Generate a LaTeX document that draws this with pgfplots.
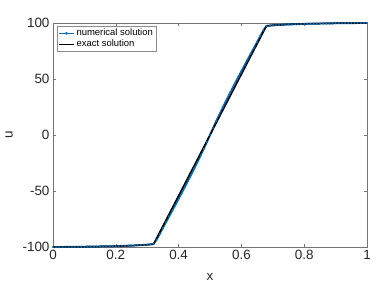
\documentclass[border=0pt]{standalone}
\usepackage{fontspec}
\setmainfont{Liberation Sans}
\usepackage{pgfplots}
\pgfplotsset{compat=1.18}
\definecolor{mblue}{rgb}{0,0.447,0.741}
\definecolor{axgray}{rgb}{0.15,0.15,0.15}
\begin{document}
\begin{tikzpicture}
\begin{axis}[
  scale only axis, width=314bp, height=224bp,
  xmin=0, xmax=1, ymin=-100, ymax=100,
  xtick={0,0.2,0.4,0.6,0.8,1}, ytick={-100,-50,0,50,100},
  tick align=inside, tick pos=both,
  major tick length=3bp,
  axis line style={black!55, line width=0.5pt},
  tick style={black!55, line width=0.5pt},
  /pgf/number format/assume math mode=true,
  ticklabel style={font=\fontsize{13.5}{15}\selectfont, text=axgray},
  label style={font=\fontsize{13.5}{15}\selectfont, text=axgray},
  xlabel={x}, ylabel={u},
  xlabel style={yshift=-7bp},
  ylabel style={yshift=3bp},
  legend style={at={(0.013,0.987)}, anchor=north west, draw=black!45, line width=0.4pt,
    font=\fontsize{9.5}{10.5}\selectfont, inner sep=1pt, row sep=-1.5pt, text=black},
  legend cell align=left,
  legend image code/.code={\draw[line width=1pt, mark repeat=2, mark phase=2, mark size=1.3pt] plot coordinates {(0cm,0cm)(0.27cm,0cm)(0.54cm,0cm)};},
]
\addplot[color=mblue, line width=1.9pt, mark=*, mark size=0.9pt, mark options={line width=0.2pt}] coordinates {
(0.00,-100)(0.01,-100)(0.02,-100)(0.03,-100)(0.04,-99.9)(0.05,-99.9)(0.06,-99.9)(0.07,-99.9)
(0.08,-99.8)(0.09,-99.8)(0.10,-99.8)(0.11,-99.7)(0.12,-99.7)(0.13,-99.6)(0.14,-99.6)(0.15,-99.5)
(0.16,-99.5)(0.17,-99.4)(0.18,-99.3)(0.19,-99.3)(0.20,-99.2)(0.21,-99.1)(0.22,-99.0)(0.23,-98.9)
(0.24,-98.8)(0.25,-98.7)(0.26,-98.6)(0.27,-98.4)(0.28,-98.3)(0.29,-98.1)(0.30,-97.9)(0.31,-97.6)
(0.32,-97.3)(0.33,-93.5)(0.34,-88.3)(0.35,-83.0)(0.36,-77.8)(0.37,-72.6)(0.38,-67.4)(0.39,-62.2)
(0.40,-57.0)(0.41,-51.7)(0.42,-46.3)(0.43,-40.9)(0.44,-35.4)(0.45,-29.8)(0.46,-24.1)(0.47,-18.3)
(0.48,-12.4)(0.49,-6.3)(0.50,0)(0.51,6.3)(0.52,12.4)(0.53,18.3)(0.54,24.1)(0.55,29.8)(0.56,35.4)
(0.57,40.9)(0.58,46.3)(0.59,51.7)(0.60,57.0)(0.61,62.2)(0.62,67.4)(0.63,72.6)(0.64,77.8)(0.65,83.0)
(0.66,88.3)(0.67,93.5)(0.68,97.3)(0.69,97.6)(0.70,97.9)(0.71,98.1)(0.72,98.3)(0.73,98.4)(0.74,98.6)
(0.75,98.7)(0.76,98.8)(0.77,98.9)(0.78,99.0)(0.79,99.1)(0.80,99.2)(0.81,99.3)(0.82,99.3)(0.83,99.4)
(0.84,99.5)(0.85,99.5)(0.86,99.6)(0.87,99.6)(0.88,99.7)(0.89,99.7)(0.90,99.8)(0.91,99.8)(0.92,99.8)
(0.93,99.9)(0.94,99.9)(0.95,99.9)(0.96,99.9)(0.97,100)(0.98,100)(0.99,100)(1.00,100)
};
\addlegendentry{numerical solution}
\addplot[color=black, line width=1.5pt, no marks] coordinates {
(0,-100)(0.1,-99.8)(0.2,-99.3)(0.25,-98.8)(0.3,-98.0)(0.32,-97.5)(0.5,0)
(0.68,97.5)(0.7,98.0)(0.75,98.8)(0.8,99.3)(0.9,99.8)(1,100)
};
\addlegendentry{exact solution}
\end{axis}
\pgfresetboundingbox
\useasboundingbox ([shift={(-53bp,-40bp)}]current axis.south west) rectangle ([shift={(15bp,23bp)}]current axis.north east);
\end{tikzpicture}
\end{document}
